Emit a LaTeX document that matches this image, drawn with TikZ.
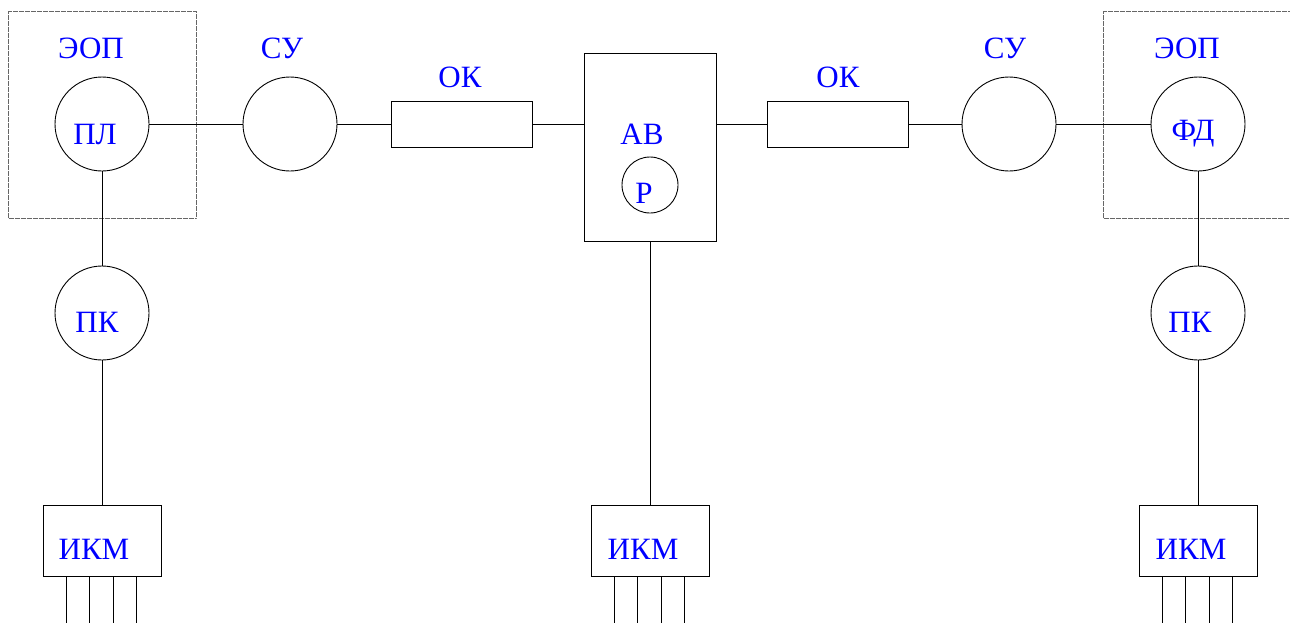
\documentclass[tikz,border=0pt]{standalone}
\usepackage{fontspec}
\setmainfont{Liberation Serif}
\usetikzlibrary{calc}
\definecolor{lbl}{RGB}{0,0,255}
\tikzset{
  unit/.style={draw, circle, minimum size=94pt, inner sep=0pt, line width=0.9pt},
  small/.style={draw, circle, minimum size=56pt, inner sep=0pt, line width=0.9pt},
  blk/.style={draw, rectangle, inner sep=0pt, line width=0.9pt},
  txt/.style={text=lbl, font=\fontsize{31}{31}\selectfont, inner sep=0pt},
  wire/.style={line width=0.9pt},
  frame/.style={draw=black!60, line width=0.9pt, dash pattern=on 0.6pt off 0.6pt},
}
\begin{document}
\begin{tikzpicture}[x=1pt, y=-1pt]
\useasboundingbox (0,0) rectangle (1290,622);
\clip (0,0) rectangle (1290,622);

% dotted enclosures of the terminal equipment
\draw[frame] (8,11) rectangle (196,218);
\draw[frame] (1103,11) rectangle (1300,218);

% main line
\node[unit] (PL) at (102,124) {};
\node[unit] (SU1) at (290,124) {};
\node[blk, minimum width=141pt, minimum height=46pt] (OK1) at (461.5,124) {};
\node[blk, minimum width=132pt, minimum height=188pt] (AB) at (650,147) {};
\node[small] (R) at (650,185) {};
\node[blk, minimum width=141pt, minimum height=46pt] (OK2) at (837.5,124) {};
\node[unit] (SU2) at (1009,124) {};
\node[unit] (FD) at (1198,124) {};

% branches
\node[unit] (PK1) at (102,313) {};
\node[unit] (PK2) at (1198,313) {};
\node[blk, minimum width=118pt, minimum height=71pt] (IKM1) at (102,540.5) {};
\node[blk, minimum width=118pt, minimum height=71pt] (IKM2) at (650,540.5) {};
\node[blk, minimum width=118pt, minimum height=71pt] (IKM3) at (1198,540.5) {};

% labels
\node[txt] (tEOP1) at (91,48) {ЭОП};
\node[txt] (tSU1) at (282,48) {СУ};
\node[txt] (tOK1) at (460,77) {ОК};
\node[txt] (tOK2) at (838,77) {ОК};
\node[txt] (tSU2) at (1005,48) {СУ};
\node[txt] (tEOP2) at (1187,48) {ЭОП};
\node[txt] (tPL) at (95,134) {ПЛ};
\node[txt] (tAB) at (642,134) {АВ};
\node[txt] (tR) at (644,193) {Р};
\node[txt] (tFD) at (1193,134) {ФД};
\node[txt] (tPK1) at (97,322) {ПК};
\node[txt] (tPK2) at (1190,322) {ПК};
\node[txt] (tIKM1) at (94,549) {ИКМ};
\node[txt] (tIKM2) at (643,549) {ИКМ};
\node[txt] (tIKM3) at (1191,549) {ИКМ};

% connections
\draw[wire] (PL.east) -- (SU1.west);
\draw[wire] (SU1.east) -- (OK1.west);
\draw[wire] (OK1.east) -- (AB.west |- OK1.east);
\draw[wire] (AB.east |- OK2.west) -- (OK2.west);
\draw[wire] (OK2.east) -- (SU2.west);
\draw[wire] (SU2.east) -- (FD.west);
\draw[wire] (PL.south) -- (PK1.north);
\draw[wire] (PK1.south) -- (IKM1.north);
\draw[wire] (AB.south) -- (IKM2.north);
\draw[wire] (FD.south) -- (PK2.north);
\draw[wire] (PK2.south) -- (IKM3.north);

% outgoing channels
\foreach \b in {IKM1,IKM2,IKM3}{
  \foreach \d in {24,47,71,94}{
    \draw[wire] ([xshift=\d pt]\b.south west) -- ++(0,50);
  }
}
\end{tikzpicture}
\end{document}
